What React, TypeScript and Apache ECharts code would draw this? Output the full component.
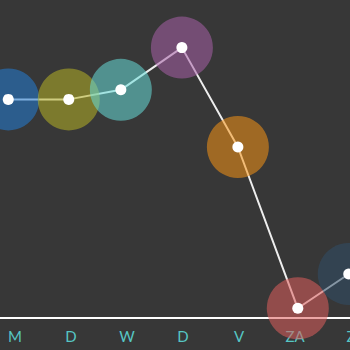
import React, { useEffect, useRef } from "react";
import * as echarts from "echarts";

// Weekday initials (Dutch) shown along the bottom axis
const days = ["M", "D", "W", "D", "V", "ZA", "Z"];
// Position of each reading along the week (day index, with time-of-day offset)
const dayPos = [-0.12, 0.96, 1.89, 2.98, 3.98, 5.05, 5.96];
// Reading per day
const values = [68.7, 68.7, 71.7, 85.0, 53.7, 2.9, 13.7];
// Halo colour per day
const haloColors = ["#257dd5", "#b7b327", "#67ddd9", "#a761a7", "#f59315", "#df5f5d", "#314f67"];

export default function App() {
  const ref = useRef<HTMLDivElement>(null);

  useEffect(() => {
    if (!ref.current) return;
    const chart = echarts.init(ref.current, null, { renderer: "svg" });
    const pts = values.map((v, i) => [dayPos[i], v]);
    chart.setOption({
      animation: false,
      backgroundColor: "#373737",
      grid: { left: 0, top: 0, width: 360, height: 317.5, outerBoundsMode: "none", containLabel: false },
      xAxis: {
        type: "value",
        min: -15 / 56,
        max: 345 / 56,
        splitLine: { show: false },
        axisTick: { show: false },
        axisLine: { show: true, lineStyle: { color: "#ffffff", width: 2 } },
        axisLabel: {
          customValues: days.map((_, i) => i),
          formatter: (v: number) => days[Math.round(v)] ?? "",
          color: "#56c6c4",
          fontFamily: "Lato",
          fontSize: 15,
          margin: 11,
          hideOverlap: false,
        },
      },
      yAxis: { type: "value", min: 0, max: 100, show: false },
      series: [
        {
          type: "line",
          data: pts,
          symbol: "none",
          clip: false,
          z: 1,
          lineStyle: { color: "#eeeeee", width: 2 },
        },
        {
          type: "scatter",
          data: pts.map((p, i) => ({ value: p, itemStyle: { color: haloColors[i] } })),
          symbolSize: 62,
          clip: false,
          z: 2,
          itemStyle: { opacity: 0.55 },
        },
        {
          type: "scatter",
          data: pts,
          symbolSize: 11,
          clip: false,
          z: 3,
          itemStyle: { color: "#ffffff", opacity: 1 },
        },
      ],
    });
    return () => chart.dispose();
  }, []);

  return (
    <div
      ref={ref}
      style={{ position: "absolute", left: 0, top: 0, width: 350, height: 350 }}
    />
  );
}
